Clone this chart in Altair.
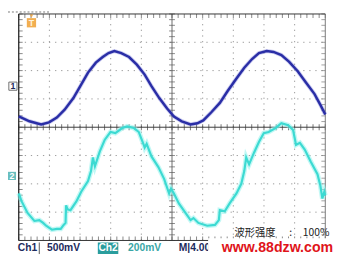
import altair as alt
import pandas as pd

# ---- Channel 1 trace (time in ms, level in screen divisions) ----
ch1_t = [0.0, 1.40, 2.93, 3.95, 4.97, 5.99, 7.13, 8.03, 9.04, 10.06, 10.96, 11.72,
         12.48, 13.38, 14.39, 15.41, 16.43, 17.32, 18.34, 19.36, 20.25, 21.27, 22.42,
         23.31, 24.08, 25.10, 26.24, 27.26, 28.41, 29.43, 30.45, 31.34, 32.36, 33.25,
         34.27, 35.29, 36.43, 37.45, 38.60, 39.36, 40.0]
ch1_div = [0.38, 0.21, 0.10, 0.17, 0.34, 0.62, 1.03, 1.45, 1.93, 2.28, 2.48, 2.62,
           2.69, 2.62, 2.48, 2.21, 1.86, 1.45, 1.03, 0.66, 0.38, 0.21, 0.10,
           0.14, 0.24, 0.52, 0.86, 1.28, 1.72, 2.10, 2.41, 2.62, 2.69, 2.66,
           2.55, 2.31, 1.97, 1.59, 1.17, 0.79, 0.45]

# ---- Channel 2 trace ----
ch2_t = [0.0, 0.38, 1.15, 2.04, 2.68, 3.18, 3.57, 4.33, 4.97, 5.48, 5.86, 6.11, 6.18,
         6.37, 6.75, 7.52, 8.15, 9.04, 9.43, 9.68, 9.94, 10.57, 11.21, 11.97, 12.61,
         13.50, 14.14, 15.03, 15.67, 16.31, 16.43, 16.69, 17.32, 18.22, 18.98, 19.62,
         19.87, 20.25, 20.89, 21.78, 22.42, 22.80, 23.44, 24.59, 25.61, 26.11, 26.24,
         26.88, 27.52, 28.41, 29.04, 29.43, 29.68, 30.06, 30.70, 31.34, 31.97, 32.61,
         33.50, 34.27, 35.16, 35.80, 36.18, 36.69, 37.32, 38.09, 38.98, 39.36, 39.62,
         39.87, 40.0]
ch2_div = [-2.34, -2.62, -3.03, -3.31, -3.28, -3.38, -3.48, -3.62, -3.59, -3.59, -3.45,
           -3.38, -2.76, -2.90, -2.93, -2.62, -2.28, -1.90, -1.55, -1.07, -1.38, -0.86,
           -0.45, -0.17, -0.21, -0.03, 0.03, -0.03, -0.17, -0.62, -0.72, -0.59, -1.03,
           -1.41, -1.83, -2.34, -2.17, -2.34, -2.69, -3.03, -3.28, -3.21, -3.38, -3.48,
           -3.45, -3.28, -2.93, -2.97, -2.69, -2.34, -2.00, -1.55, -1.07, -1.31, -0.90,
           -0.52, -0.21, -0.17, -0.03, 0.14, 0.07, -0.10, -0.62, -0.55, -0.79, -1.21,
           -1.66, -2.07, -2.52, -2.28, -2.41]

# ---- graticule ----
grid_t = [4, 8, 12, 16, 24, 28, 32, 36]
grid_v = [-3, -2, -1, 1, 2, 3]
minor_t = [i * 0.8 for i in range(51)]
minor_v = [round(-4 + i * 0.2, 2) for i in range(41)]

# ---- readout text ----
status_labels = ["Ch1", "500mV", "M|4.00ms"]
status_t = [-0.13, 3.69, 20.89]
ch2_label = "Ch2"
ch2_scale = "200mV"
watermark = "www.88dzw.com"
intensity = ["波形强度", ":", "100%"]
intensity_t = [28.15, 35.3, 37.07]

X = alt.Scale(domain=[0, 40])
Y = alt.Scale(domain=[-4, 4])


def enc(xf="t", yf="v", **kw):
    return dict(x=alt.X(f"{xf}:Q", scale=X, axis=None),
                y=alt.Y(f"{yf}:Q", scale=Y, axis=None), **kw)


layers = []

# dotted grid lines
vg = pd.DataFrame({"t": grid_t, "lo": -4, "hi": 4})
layers.append(alt.Chart(vg).mark_rule(color="#999999", strokeWidth=1, strokeDash=[1.3, 4.5]).encode(
    x=alt.X("t:Q", scale=X, axis=None), y=alt.Y("lo:Q", scale=Y, axis=None), y2="hi:Q"))
hg = pd.DataFrame({"v": grid_v, "lo": 0, "hi": 40})
layers.append(alt.Chart(hg).mark_rule(color="#999999", strokeWidth=1, strokeDash=[1.3, 4.9]).encode(
    y=alt.Y("v:Q", scale=Y, axis=None), x=alt.X("lo:Q", scale=X, axis=None), x2="hi:Q"))

# center lines
layers.append(alt.Chart(pd.DataFrame({"t": [20], "lo": [-4], "hi": [4]})).mark_rule(
    color="#6a6a6a", strokeWidth=1).encode(
    x=alt.X("t:Q", scale=X, axis=None), y=alt.Y("lo:Q", scale=Y, axis=None), y2="hi:Q"))
layers.append(alt.Chart(pd.DataFrame({"v": [0], "lo": [0], "hi": [40]})).mark_rule(
    color="#3a3a3a", strokeWidth=1).encode(
    y=alt.Y("v:Q", scale=Y, axis=None), x=alt.X("lo:Q", scale=X, axis=None), x2="hi:Q"))

# minor ticks on center lines
layers.append(alt.Chart(pd.DataFrame({"t": minor_t, "v": 0})).mark_tick(
    orient="vertical", size=6, thickness=1, color="#3a3a3a").encode(**enc()))
layers.append(alt.Chart(pd.DataFrame({"t": 20, "v": minor_v})).mark_tick(
    orient="horizontal", size=6, thickness=1, color="#5a5a5a").encode(**enc()))
# minor ticks on frame
layers.append(alt.Chart(pd.DataFrame({"t": minor_t, "v": -4})).mark_tick(
    orient="vertical", size=4, thickness=1, color="#555", yOffset=-2).encode(**enc()))
layers.append(alt.Chart(pd.DataFrame({"t": minor_t, "v": 4})).mark_tick(
    orient="vertical", size=4, thickness=1, color="#555", yOffset=2).encode(**enc()))
layers.append(alt.Chart(pd.DataFrame({"t": 0, "v": minor_v})).mark_tick(
    orient="horizontal", size=4, thickness=1, color="#555", xOffset=2).encode(**enc()))
layers.append(alt.Chart(pd.DataFrame({"t": 40, "v": minor_v})).mark_tick(
    orient="horizontal", size=4, thickness=1, color="#777", xOffset=-2).encode(**enc()))

# frame
layers.append(alt.Chart(pd.DataFrame({"t": [0], "lo": [-4], "hi": [4]})).mark_rule(
    color="#222", strokeWidth=1.3).encode(
    x=alt.X("t:Q", scale=X, axis=None), y=alt.Y("lo:Q", scale=Y, axis=None), y2="hi:Q"))
layers.append(alt.Chart(pd.DataFrame({"t": [40], "lo": [-4], "hi": [4]})).mark_rule(
    color="#777", strokeWidth=1).encode(
    x=alt.X("t:Q", scale=X, axis=None), y=alt.Y("lo:Q", scale=Y, axis=None), y2="hi:Q"))
layers.append(alt.Chart(pd.DataFrame({"v": [-4, 4], "lo": [0, 0], "hi": [40, 40]})).mark_rule(
    color="#333", strokeWidth=1).encode(
    y=alt.Y("v:Q", scale=Y, axis=None), x=alt.X("lo:Q", scale=X, axis=None), x2="hi:Q"))
# dashed record bar above frame
layers.append(alt.Chart(pd.DataFrame({"v": [4.07], "lo": [-1.4], "hi": [3.95]})).mark_rule(
    color="#777", strokeWidth=1, strokeDash=[2, 2]).encode(
    y=alt.Y("v:Q", scale=Y, axis=None), x=alt.X("lo:Q", scale=X, axis=None), x2="hi:Q"))

# traces
d1 = pd.DataFrame({"t": ch1_t, "v": ch1_div})
d2 = pd.DataFrame({"t": ch2_t, "v": ch2_div})
layers.append(alt.Chart(d1).mark_line(color="#6c70d8", strokeWidth=4.2, opacity=0.35).encode(**enc()))
layers.append(alt.Chart(d1).mark_line(color="#2a2ea6", strokeWidth=2.5).encode(**enc()))
layers.append(alt.Chart(d2).mark_line(color="#8ff2ec", strokeWidth=5, opacity=0.55).encode(**enc()))
layers.append(alt.Chart(d2).mark_line(color="#3cdad2", strokeWidth=2.2).encode(**enc()))

# trigger marker
trig = pd.DataFrame({"t": [1.66], "v": [3.69], "s": ["T"]})
layers.append(alt.Chart(trig).mark_point(shape="square", size=90, filled=True, color="#f0a032",
                                         opacity=0.85).encode(**enc()))
layers.append(alt.Chart(trig).mark_text(text="T", color="#fff3dc", fontSize=9, fontWeight="bold",
                                        font="Liberation Sans").encode(**enc()))
layers.append(alt.Chart(pd.DataFrame({"t": [1.66], "v": [4.0]})).mark_point(
    shape="triangle-down", size=18, filled=True, color="#f0a032", yOffset=2).encode(**enc()))

# channel ground markers
m1 = pd.DataFrame({"t": [-0.76], "v": [1.45]})
layers.append(alt.Chart(m1).mark_point(shape="square", size=70, filled=True, color="white",
                                       stroke="#333", strokeWidth=1).encode(**enc()))
layers.append(alt.Chart(m1).mark_text(text="1", color="#1c2a5c", fontSize=9, fontWeight="bold",
                                      font="Liberation Sans").encode(**enc()))
m2 = pd.DataFrame({"t": [-0.89], "v": [-1.72]})
layers.append(alt.Chart(m2).mark_point(shape="square", size=70, filled=True, color="#2aa3a3").encode(**enc()))
layers.append(alt.Chart(m2).mark_text(text="2", color="white", fontSize=9, fontWeight="bold",
                                      font="Liberation Sans").encode(**enc()))

# status readouts
st = pd.DataFrame({"t": status_t, "v": -4.28, "s": status_labels})
layers.append(alt.Chart(st).mark_text(align="left", baseline="middle", color="#1c2a5c", fontSize=10.5,
                                      fontWeight="bold", font="Liberation Sans").encode(**enc(text="s:N")))
layers.append(alt.Chart(pd.DataFrame({"t": [2.68], "lo": [-4.07], "hi": [-4.48]})).mark_rule(
    color="#555", strokeWidth=1).encode(
    x=alt.X("t:Q", scale=X, axis=None), y=alt.Y("lo:Q", scale=Y, axis=None), y2="hi:Q"))
layers.append(alt.Chart(pd.DataFrame({"a": [10.32], "b": [12.99], "lo": [-4.07], "hi": [-4.48]})).mark_rect(
    color="#2a9d9d").encode(
    x=alt.X("a:Q", scale=X, axis=None), x2="b:Q", y=alt.Y("lo:Q", scale=Y, axis=None), y2="hi:Q"))
layers.append(alt.Chart(pd.DataFrame({"t": [11.66], "v": [-4.28], "s": [ch2_label]})).mark_text(
    baseline="middle", color="white", fontSize=10.5, fontWeight="bold",
    font="Liberation Sans").encode(**enc(text="s:N")))
layers.append(alt.Chart(pd.DataFrame({"t": [14.27], "v": [-4.28], "s": [ch2_scale]})).mark_text(
    align="left", baseline="middle", color="#3aa6a6", fontSize=10.5, fontWeight="bold",
    font="Liberation Sans").encode(**enc(text="s:N")))

# intensity readout
it = pd.DataFrame({"t": intensity_t, "v": -3.74, "s": intensity})
layers.append(alt.Chart(it).mark_text(align="left", baseline="middle", color="#222", fontSize=10.5,
                                      font="Noto Sans CJK SC").encode(**enc(text="s:N")))

# watermark panel
layers.append(alt.Chart(pd.DataFrame({"a": [24.71], "b": [41.6], "lo": [-3.92], "hi": [-4.8]})).mark_rect(
    color="white").encode(
    x=alt.X("a:Q", scale=X, axis=None), x2="b:Q", y=alt.Y("lo:Q", scale=Y, axis=None), y2="hi:Q"))
layers.append(alt.Chart(pd.DataFrame({"t": [33.76], "v": [-4.28], "s": [watermark]})).mark_text(
    baseline="middle", color="#e0141a", fontSize=14.5, fontWeight="bold",
    font="Liberation Sans").encode(**enc(text="s:N")))

chart = alt.layer(*layers).properties(
    width=314, height=232,
    padding={"left": 11, "top": 3, "right": 12, "bottom": 22},
    autosize=alt.AutoSizeParams(type="none"),
    background="white",
).configure_view(strokeWidth=0)

chart.save("out.html", embed_options={"renderer": "svg", "actions": False})
